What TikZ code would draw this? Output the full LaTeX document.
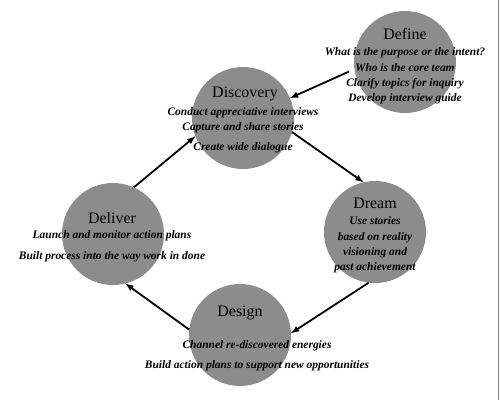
\documentclass[tikz,border=0pt]{standalone}
\usepackage{fontspec}
\setmainfont{Liberation Serif}
\usepackage{tikz}
\usepackage{xcolor}
\usetikzlibrary{positioning}
\definecolor{phasegray}{RGB}{140,140,140}

\begin{document}
\begin{tikzpicture}[x=1bp,y=-1bp,
      phase/.style={circle,fill=phasegray,minimum size=102bp,inner sep=0pt,outer sep=0pt},
      title/.style={font=\fontsize{16}{18}\selectfont},
      items/.style={align=center,font=\bfseries\itshape\fontsize{11.5}{15.5}\selectfont},
      arrow/.style={-latex,line width=1.8bp}]
    \useasboundingbox (0,0) rectangle (500,400);
    \draw[line width=1.5bp,gray] (498.5,0) -- (498.5,400);
    \node[phase] (define) at (405,62) {};
    \node[phase] (discovery) at (243,118) {};
    \node[phase] (dream) at (375,232) {};
    \node[phase] (deliver) at (113,234) {};
    \node[phase] (design) at (240,335) {};
    \node[title] (definet) at (405,34) {Define};
    \node[title] (discoveryt) at (245,94) {Discovery};
    \node[title] (dreamt) at (375,203) {Dream};
    \node[title] (delivert) at (112,218) {Deliver};
    \node[title] (designt) at (240,313) {Design};
    \node[items] (definei) at (405,76) {What is the purpose or the intent?\\Who is the core team\\Clarify topics for inquiry\\Develop interview guide};
    \node[items] (discoveryi) at (243,130) {Conduct appreciative interviews\\Capture and share stories\\[4.5bp]Create wide dialogue};
    \node[items] (dreami) at (375,245) {Use stories\\based on reality\\visioning and\\past achievement};
    \node[items] (deliveri) at (112,246) {Launch and monitor action plans\\[5.5bp]Built process into the way work in done};
    \node[items] (designi) at (257,356) {Channel re-discovered energies\\[4.5bp]Build action plans to support new opportunities};
    \draw[arrow,shorten <=6bp] (define.188) -- (discovery.23);
    \draw[arrow] (discovery.-16) -- (dream.103);
    \draw[arrow] (dream.-97) -- (design.2);
    \draw[arrow] (design.174) -- (deliver.-76);
    \draw[arrow] (deliver.66) -- (discovery.-159);
  \end{tikzpicture}
\end{document}
